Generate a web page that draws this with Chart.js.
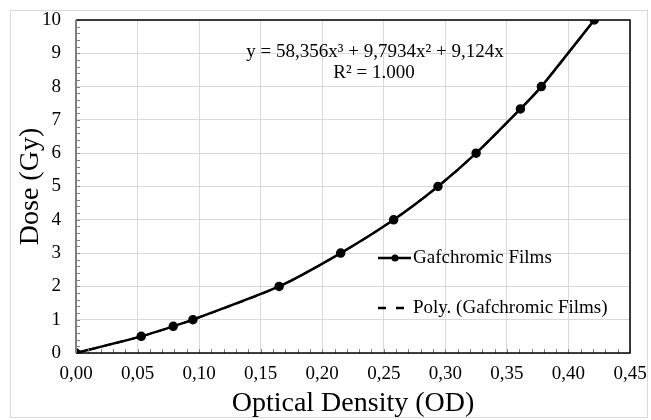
<!DOCTYPE html>
<html><head><meta charset="utf-8">
<script src="https://cdn.jsdelivr.net/npm/chart.js@4.4.0/dist/chart.umd.min.js"></script>
<style>html,body{margin:0;padding:0;background:#fff}#wrap{width:651px;height:420px}</style>
</head><body><div id="wrap"><canvas id="c" width="651" height="420"></canvas></div>
<script>
const opticalDensity = [0, 0.053, 0.079, 0.095, 0.165, 0.215, 0.258, 0.294, 0.325, 0.361, 0.378, 0.421];
const doseGy = [0, 0.5, 0.8, 1, 2, 3, 4, 5, 6, 7.33, 8, 10];
const seriesName = 'Gafchromic Films';
const trendName = 'Poly. (Gafchromic Films)';
const equationLines = ['y = 58,356x\u00B3 + 9,7934x\u00B2 + 9,124x', 'R\u00B2 = 1.000'];
const xTickLabels = ['0,00','0,05','0,10','0,15','0,20','0,25','0,30','0,35','0,40','0,45'];

const FONT = "'Liberation Serif','Times New Roman',serif";
const pts = opticalDensity.map((x,i)=>({x, y: doseGy[i]}));

const decor = {
  id: 'decor',
  beforeDraw(chart){
    const ctx = chart.ctx;
    ctx.save();
    ctx.fillStyle = '#fff';
    ctx.fillRect(0,0,chart.width,chart.height);
    ctx.strokeStyle = '#d9d9d9';
    ctx.lineWidth = 1;
    ctx.strokeRect(10.5,10.5,637,407);
    ctx.restore();
  },
  afterDatasetsDraw(chart){
    const ctx = chart.ctx, a = chart.chartArea;
    const xs = chart.scales.x, ys = chart.scales.y;
    ctx.save();
    // minor ticks
    ctx.strokeStyle = '#808080';
    ctx.lineWidth = 1;
    ctx.beginPath();
    for (let v = 0; v <= 10.001; v += 0.2) {
      const y = Math.round(ys.getPixelForValue(v)) + 0.5;
      ctx.moveTo(a.left, y); ctx.lineTo(a.left + 4, y);
    }
    for (let v = 0; v <= 0.4501; v += 0.01) {
      const x = Math.round(xs.getPixelForValue(v)) + 0.5;
      ctx.moveTo(x, a.bottom); ctx.lineTo(x, a.bottom - 4);
    }
    ctx.stroke();
    // frame
    ctx.strokeStyle = '#000';
    ctx.lineWidth = 1.5;
    ctx.beginPath();
    ctx.moveTo(a.left, a.top); ctx.lineTo(a.right, a.top); ctx.lineTo(a.right, a.bottom); ctx.lineTo(a.left, a.bottom);
    ctx.stroke();
    ctx.strokeStyle = '#7f7f7f';
    ctx.lineWidth = 2;
    ctx.beginPath();
    ctx.moveTo(a.left, a.top); ctx.lineTo(a.left, a.bottom);
    ctx.stroke();
    // equation
    ctx.fillStyle = '#000';
    ctx.strokeStyle = '#000';
    ctx.font = '19px ' + FONT;
    ctx.textBaseline = 'middle';
    ctx.textAlign = 'center';
    ctx.fillText(equationLines[0], 375, 52);
    ctx.fillText(equationLines[1], 374, 73);
    // legend
    ctx.textAlign = 'left';
    ctx.lineWidth = 2.5;
    ctx.beginPath(); ctx.moveTo(378, 258); ctx.lineTo(411, 258); ctx.stroke();
    ctx.beginPath(); ctx.arc(395, 258, 3.5, 0, Math.PI*2); ctx.fill();
    ctx.fillText(seriesName, 413, 258);
    ctx.setLineDash([8,10]);
    ctx.beginPath(); ctx.moveTo(378, 308); ctx.lineTo(405, 308); ctx.stroke();
    ctx.setLineDash([]);
    ctx.fillText(trendName, 413, 308);
    ctx.restore();
  }
};

new Chart(document.getElementById('c'), {
  type: 'scatter',
  data: {
    datasets: [
      { label: trendName, data: pts, showLine: true, borderColor: '#000', borderWidth: 2, borderDash: [8,6], pointRadius: 0, tension: 0.3 },
      { label: seriesName, data: pts, showLine: true, borderColor: '#000', backgroundColor: '#000', borderWidth: 2.5, pointRadius: 3.5, pointHoverRadius: 3.5, tension: 0.2 }
    ]
  },
  options: {
    responsive: false,
    animation: false,
    devicePixelRatio: 1,
    layout: { padding: { left: 0, right: 21, top: 20, bottom: 0 } },
    plugins: { legend: { display: false }, tooltip: { enabled: false } },
    scales: {
      x: {
        type: 'linear', min: 0, max: 0.45,
        afterFit(s){ s.height = 67; s.paddingLeft = 0; s.paddingRight = 0; s.paddingTop = 0; s.paddingBottom = 0; },
        afterBuildTicks(s){ s.ticks = xTickLabels.map((t,i)=>({value: i*0.05})); },
        ticks: { color: '#000', font: { family: FONT, size: 19 }, padding: 10, callback: (v,i)=>xTickLabels[i] },
        grid: { color: '#d9d9d9', lineWidth: 1, drawTicks: false },
        border: { display: false },
        title: { display: true, text: 'Optical Density (OD)', color: '#000', font: { family: FONT, size: 28, weight: 'normal' }, padding: { top: 4, bottom: 0 } }
      },
      y: {
        min: 0, max: 10,
        afterFit(s){ s.width = 76; s.paddingLeft = 0; s.paddingRight = 0; s.paddingTop = 0; s.paddingBottom = 0; },
        ticks: { stepSize: 1, color: '#000', font: { family: FONT, size: 19 }, padding: 15 },
        grid: { color: '#d9d9d9', lineWidth: 1, drawTicks: false },
        border: { display: false },
        title: { display: true, text: 'Dose (Gy)', color: '#000', font: { family: FONT, size: 28, weight: 'normal' }, padding: { top: 14, bottom: 4 } }
      }
    }
  },
  plugins: [decor]
});
</script></body></html>
